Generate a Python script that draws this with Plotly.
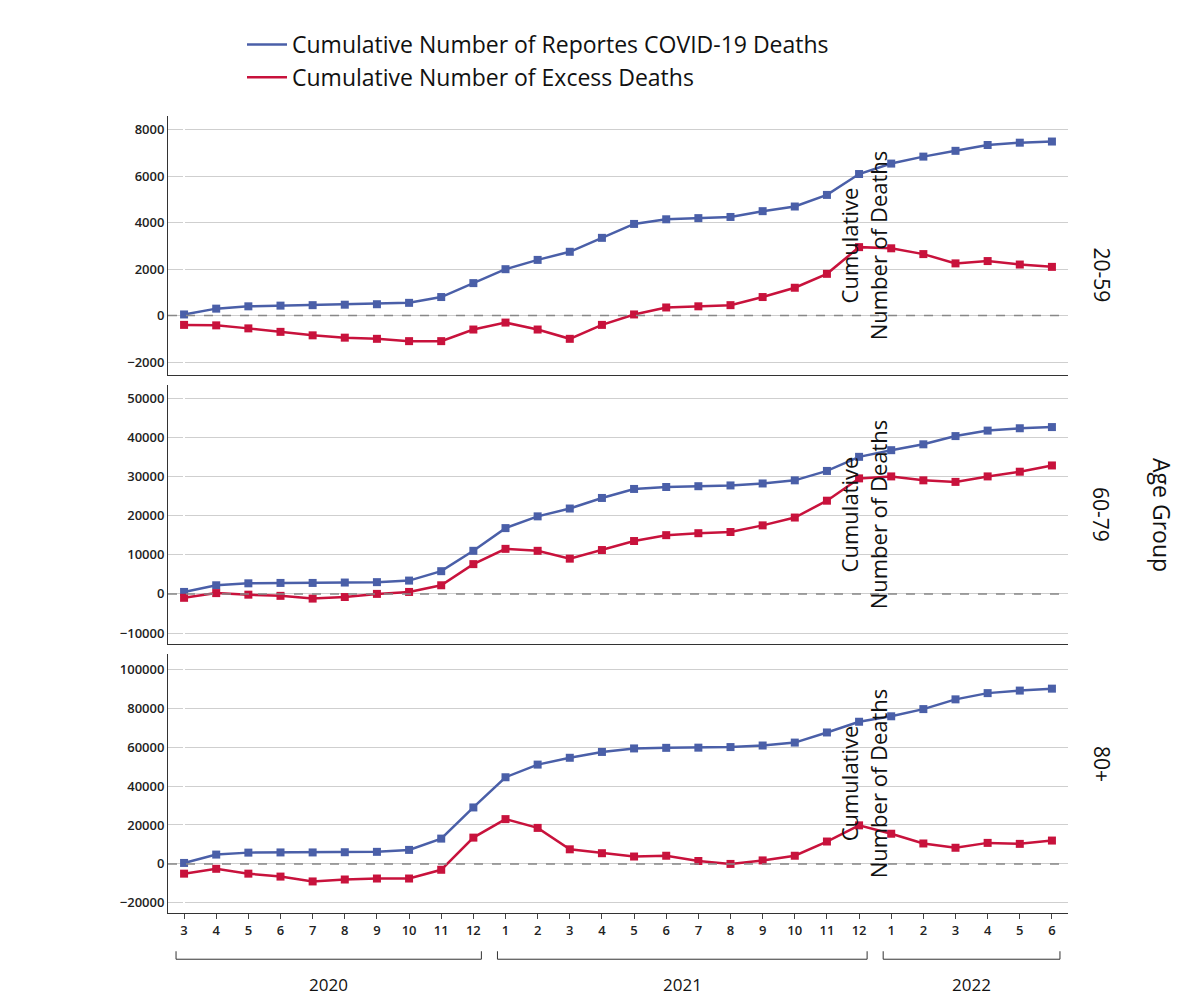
import plotly.graph_objects as go
from plotly.subplots import make_subplots

months = [3,4,5,6,7,8,9,10,11,12,1,2,3,4,5,6,7,8,9,10,11,12,1,2,3,4,5,6]
years = ["2020","2021","2022"]
groups = ["20-59","60-79","80+"]
covid = [
 [50,300,400,430,450,470,490,550,800,1400,2000,2400,2750,3350,3950,4150,4200,4250,4500,4700,5200,6100,6550,6850,7100,7350,7450,7500],
 [500,2200,2700,2800,2800,2900,3000,3400,5800,11000,16800,19800,21800,24500,26800,27300,27500,27700,28200,29000,31400,35000,36700,38200,40300,41700,42300,42600],
 [500,4800,5800,5900,5900,6000,6200,7200,13000,29000,44500,51000,54500,57500,59300,59600,59700,60000,60800,62300,67500,73000,75800,79500,84500,87700,89000,90000],
]
excess = [
 [-400,-420,-550,-700,-850,-950,-1000,-1100,-1100,-600,-300,-600,-1000,-400,50,350,400,450,800,1200,1800,2950,2900,2650,2250,2350,2200,2100],
 [-1000,200,-200,-500,-1200,-800,0,500,2200,7600,11500,11000,9000,11200,13500,15000,15500,15800,17500,19500,23800,29500,30000,29000,28600,30000,31200,32800],
 [-5000,-2500,-5000,-6500,-9000,-8000,-7500,-7500,-3000,13500,23000,18500,7500,5500,3800,4200,1500,0,1800,4200,11500,19800,15500,10500,8300,10800,10300,12000],
]
ranges = [[-2560,8600],[-12800,53350],[-25200,107800]]
dticks = [2000,10000,20000]
BLUE, RED = "#4a5fa8", "#c8123c"
names = ["Cumulative Number of Reportes COVID-19 Deaths", "Cumulative Number of Excess Deaths"]
x = list(range(len(months)))

fig = make_subplots(rows=3, cols=1, shared_xaxes=True, vertical_spacing=0.0125)
for i in range(3):
    fig.add_trace(go.Scatter(x=x, y=covid[i], mode="lines+markers", line=dict(color=BLUE, width=2.5),
        marker=dict(symbol="square", size=8, color=BLUE), showlegend=False), row=i+1, col=1)
    fig.add_trace(go.Scatter(x=x, y=excess[i], mode="lines+markers", line=dict(color=RED, width=2.5),
        marker=dict(symbol="square", size=8, color=RED), showlegend=False), row=i+1, col=1)
    fig.add_hline(y=0, line=dict(color="#888", dash="dash", width=1.5), row=i+1, col=1)
    fig.update_yaxes(range=ranges[i], dtick=dticks[i], tickformat="d", showgrid=True, gridcolor="#cfcfcf",
        showline=True, linecolor="#333", mirror=False, zeroline=False,
        tickfont=dict(size=13, color="#222", family="Open Sans", weight=600), ticks="", 
        title=dict(text="Cumulative<br>Number of Deaths", font=dict(size=22, color="#111", weight=500), standoff=14),
        row=i+1, col=1)
    fig.update_xaxes(range=[-0.5, 27.5], showline=True, linecolor="#333", showgrid=False,
        tickmode="array", tickvals=x, ticktext=[str(m) for m in months],
        tickfont=dict(size=13, color="#222", weight=600), ticks="outside" if i==2 else "", row=i+1, col=1)
    dom = fig.layout["yaxis" + ("" if i==0 else str(i+1))].domain
    fig.add_annotation(text=groups[i], xref="paper", yref="paper", x=1.055, y=(dom[0]+dom[1])/2,
        showarrow=False, textangle=90, font=dict(size=21, color="#111"))

for nm, c in zip(names, [BLUE, RED]):
    fig.add_trace(go.Scatter(x=[None], y=[None], mode="lines", line=dict(color=c, width=2.5), name=nm), row=1, col=1)

fig.add_annotation(text="Age Group", xref="paper", yref="paper", x=1.125, y=0.5, showarrow=False,
    textangle=90, font=dict(size=23, color="#111"))

brackets = [(-0.25, 9.25, "2020"), (9.75, 21.25, "2021"), (21.75, 27.25, "2022")]
for a, b, t in brackets:
    yb = -0.058
    fig.add_shape(type="line", xref="x3", yref="paper", x0=a, x1=b, y0=yb, y1=yb, line=dict(color="#333", width=1))
    for xx in (a, b):
        fig.add_shape(type="line", xref="x3", yref="paper", x0=xx, x1=xx, y0=yb, y1=yb+0.01, line=dict(color="#333", width=1))
    fig.add_annotation(text=t, xref="x3", yref="paper", x=(a+b)/2, y=yb-0.015, yanchor="top",
        showarrow=False, font=dict(size=17, color="#111", weight=500))

fig.update_layout(width=1200, height=1001, plot_bgcolor="white", paper_bgcolor="white",
    margin=dict(l=160, r=140, t=108, b=96, autoexpand=False), font=dict(family="Open Sans", color="#111"),
    legend=dict(x=0.195, y=0.985, xref="container", yref="container", xanchor="left", yanchor="top",
        font=dict(size=23, color="#111", weight=500), itemwidth=40, tracegroupgap=0))
fig.write_html("out.html")
